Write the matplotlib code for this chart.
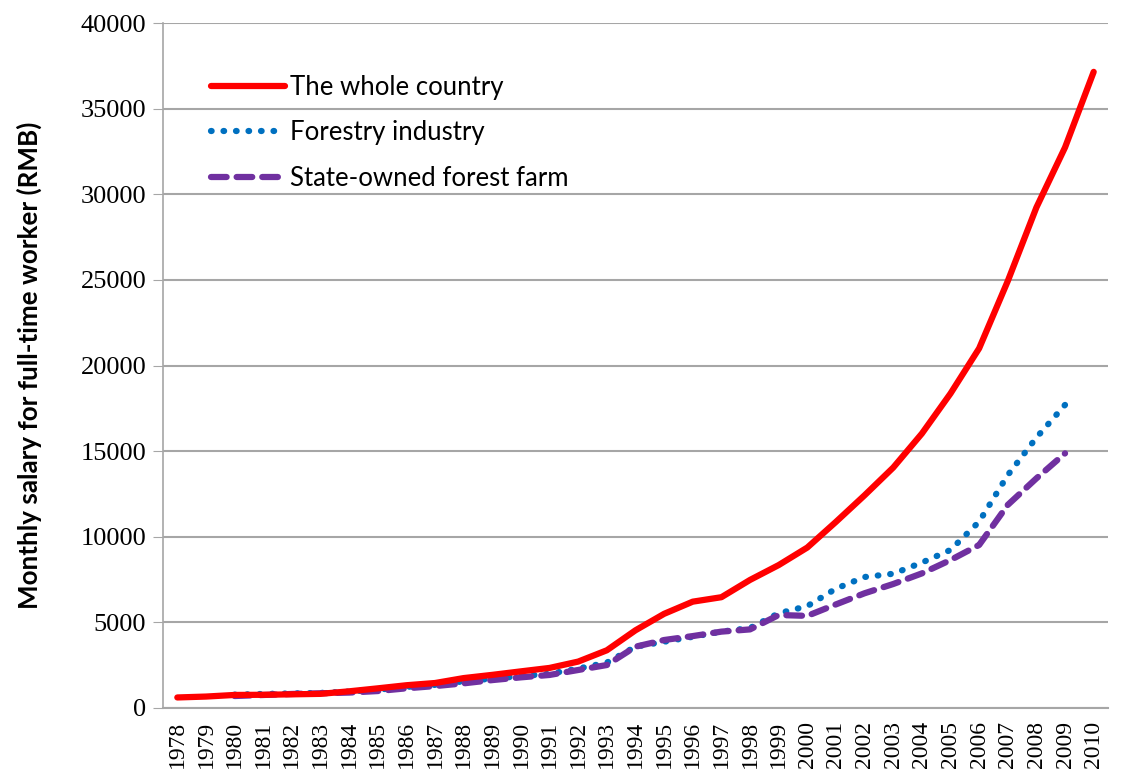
import matplotlib
matplotlib.use("Agg")
import matplotlib.pyplot as plt
import numpy as np

years = [str(y) for y in range(1978, 2011)]

# whole country, 1978-2010
whole_country = [615, 668, 762, 772, 798, 826, 974, 1148, 1329, 1459, 1747,
                 1935, 2140, 2340, 2711, 3371, 4538, 5500, 6210, 6470, 7479,
                 8346, 9371, 10870, 12422, 14040, 16024, 18364, 21001, 24932,
                 29229, 32736, 37147]

# forestry industry, 1980-2009
forestry = [780, 820, 850, 880, 960, 1070, 1230, 1350, 1560, 1720, 1860,
            2000, 2300, 2650, 3580, 3870, 4160, 4460, 4670, 5530, 5950,
            6970, 7650, 7840, 8490, 9230, 10880, 13600, 15790, 17700]

# state-owned forest farm, 1980-2009
state_farm = [700, 760, 820, 860, 900, 990, 1150, 1280, 1440, 1630, 1790,
              1930, 2220, 2510, 3580, 3970, 4200, 4460, 4590, 5430, 5380,
              6050, 6700, 7240, 7860, 8640, 9520, 11860, 13410, 14870]

x_all = np.arange(len(years))
x_sub = np.arange(2, 2 + len(forestry))

fig = plt.figure(figsize=(11.22, 7.72), dpi=100)
ax = fig.add_axes([163 / 1122, 1 - 708 / 772, 945 / 1122, 685 / 772])

ax.plot(x_all, whole_country, color="#ff0000", lw=4.5, solid_capstyle="round",
        label="The whole country", zorder=4)
ax.plot(x_sub, forestry, color="#0070c0", lw=4.5, linestyle=(0, (0.1, 1.9)),
        dash_capstyle="round", label="Forestry industry", zorder=3)
ax.plot(x_sub, state_farm, color="#7030a0", lw=4.5, linestyle=(0, (2.5, 1.6)),
        dash_capstyle="round", label="State-owned forest farm", zorder=3)

ax.set_xlim(-0.5, len(years) - 0.5)
ax.set_ylim(0, 40000)
ax.set_yticks(np.arange(0, 40001, 5000))
ax.set_xticks(x_all)
ax.set_xticklabels(years, rotation=90, fontsize=17, family="Liberation Serif")
for lab in ax.get_yticklabels():
    lab.set_family("Liberation Serif")
    lab.set_fontsize(19)

ax.yaxis.grid(True, color="#a6a6a6", lw=1.5)
ax.set_axisbelow(True)
for s in ["top", "right"]:
    ax.spines[s].set_visible(False)
ax.spines["left"].set_color("#a6a6a6")
ax.spines["bottom"].set_color("#a6a6a6")
ax.spines["left"].set_linewidth(1.2)
ax.spines["bottom"].set_linewidth(1.5)
ax.tick_params(axis="y", length=7, color="#a6a6a6", pad=5)
ax.tick_params(axis="x", length=0, pad=9)

ax.set_ylabel("Monthly salary for full-time worker (RMB)", fontsize=18.7,
              fontweight="bold", family="Lato")
ax.yaxis.set_label_coords(-0.128, 0.5)

leg = ax.legend(loc="upper left", bbox_to_anchor=(0.026, 0.958), frameon=False,
                prop={"family": "Lato", "size": 18.5}, handlelength=2.9,
                handletextpad=0.2, labelspacing=0.8)

fig.savefig("out.png", dpi=100)
